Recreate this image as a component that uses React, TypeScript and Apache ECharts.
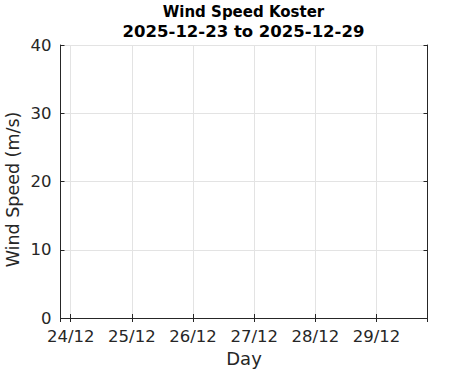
import React, { useEffect, useRef } from "react";
import * as echarts from "echarts";

// Data (the reference plot shows no measurements in this period)
const timeStamps: number[] = [];
const windSpeed: number[] = [];
const xStart = new Date(2025, 11, 23, 20, 0, 0).getTime();
const xEnd = new Date(2025, 11, 29, 20, 0, 0).getTime();
const yTicks = [0, 10, 20, 30, 40];
const titleLine1 = "Wind Speed Koster";
const titleLine2 = "2025-12-23 to 2025-12-29";
const xName = "Day";
const yName = "Wind Speed (m/s)";

const DAY = 24 * 3600 * 1000;
const FONT = "DejaVu Sans";
const AXIS_COLOR = "#262626";
const GRID_COLOR = "#e3e3e3";

export default function App() {
  const ref = useRef<HTMLDivElement>(null);
  useEffect(() => {
    if (!ref.current) return;
    document.body.style.margin = "0";
    const chart = echarts.init(ref.current, null, { renderer: "svg" });
    const seriesData = timeStamps.map((t, i) => [t, windSpeed[i]]);
    const xCommon = {
      type: "time" as const,
      min: xStart,
      max: xEnd,
      minInterval: DAY,
      maxInterval: DAY,
      axisLine: { show: true, lineStyle: { color: AXIS_COLOR, width: 1 } },
      axisTick: { show: true, inside: true, length: 4, lineStyle: { color: AXIS_COLOR } },
      minorTick: { show: false },
    };
    const yCommon = {
      type: "value" as const,
      min: yTicks[0],
      max: yTicks[yTicks.length - 1],
      interval: yTicks[1] - yTicks[0],
      axisLine: { show: true, lineStyle: { color: AXIS_COLOR, width: 1 } },
      axisTick: { show: true, inside: true, length: 4, lineStyle: { color: AXIS_COLOR } },
    };
    chart.setOption({
      animation: false,
      backgroundColor: "#ffffff",
      textStyle: { fontFamily: FONT },
      grid: {
        left: 60.5,
        right: 43.5,
        top: 45,
        bottom: 53,
        containLabel: false,
        outerBoundsMode: "none",
      },
      graphic: [
        {
          type: "text",
          x: 243.5,
          y: 11.5,
          style: {
            text: titleLine1,
            align: "center",
            verticalAlign: "middle",
            fontFamily: FONT,
            fontWeight: "bold",
            fontSize: 15,
            fill: "#000000",
          },
        },
        {
          type: "text",
          x: 243.5,
          y: 31,
          style: {
            text: titleLine2,
            align: "center",
            verticalAlign: "middle",
            fontFamily: FONT,
            fontWeight: "bold",
            fontSize: 16.5,
            fill: "#000000",
          },
        },
        {
          type: "text",
          x: 12.5,
          y: 189.5,
          rotation: Math.PI / 2,
          style: {
            text: yName,
            align: "center",
            verticalAlign: "middle",
            fontFamily: FONT,
            fontSize: 17.5,
            fill: AXIS_COLOR,
          },
        },
      ],
      xAxis: [
        {
          ...xCommon,
          position: "bottom",
          name: xName,
          nameLocation: "middle",
          nameGap: 31,
          nameTextStyle: { fontFamily: FONT, fontSize: 18, color: AXIS_COLOR },
          axisLabel: {
            show: true,
            formatter: "{dd}/{MM}",
            fontFamily: FONT,
            fontSize: 16.5,
            color: AXIS_COLOR,
            margin: 10,
            showMinLabel: false,
            showMaxLabel: false,
          },
          splitLine: { show: true, lineStyle: { color: GRID_COLOR, width: 1 } },
        },
        {
          ...xCommon,
          position: "top",
          axisLabel: { show: false },
          splitLine: { show: false },
        },
      ],
      yAxis: [
        {
          ...yCommon,
          position: "left",
          axisLabel: { show: true, fontFamily: FONT, fontSize: 16.5, color: AXIS_COLOR, margin: 9 },
          splitLine: { show: true, lineStyle: { color: GRID_COLOR, width: 1 } },
        },
        {
          ...yCommon,
          position: "right",
          axisLabel: { show: false },
          splitLine: { show: false },
        },
      ],
      series: [
        {
          type: "line",
          name: "Wind Speed",
          xAxisIndex: 0,
          yAxisIndex: 0,
          data: seriesData,
          showSymbol: false,
          lineStyle: { color: "#0072bd", width: 1 },
        },
      ],
    });
    return () => chart.dispose();
  }, []);
  return <div ref={ref} style={{ width: 471, height: 371 }} />;
}
